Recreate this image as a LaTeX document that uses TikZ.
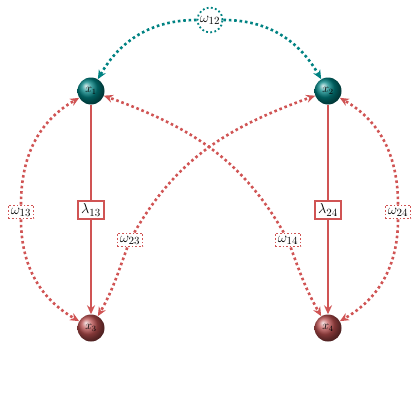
\documentclass[tikz,border=0pt]{standalone}
\usetikzlibrary{arrows.meta,shapes.geometric}
\definecolor{myred}{RGB}{208,84,84}
\definecolor{myteal}{RGB}{0,130,130}
\definecolor{ballred}{RGB}{185,78,78}
\begin{document}
\begin{tikzpicture}[x=1pt,y=-1pt,
  ballA/.style={circle,minimum size=27pt,inner sep=0pt,shading=ball,ball color=myteal,font=\fontsize{12}{14}\selectfont,text=black},
  ballB/.style={circle,minimum size=27pt,inner sep=0pt,shading=ball,ball color=ballred,font=\fontsize{12}{14}\selectfont,text=black},
  lam/.style={draw=myred,line width=1.6pt,fill=white,inner sep=3pt,font=\fontsize{15}{18}\selectfont},
  wbox/.style={draw=myred,line width=1.6pt,dash pattern=on 1.6pt off 2pt,fill=white,inner sep=2.5pt,font=\fontsize{15}{18}\selectfont},
  wcirc/.style={circle,draw=myteal,line width=1.8pt,dash pattern=on 1.8pt off 2.4pt,fill=white,inner sep=0.5pt,minimum size=25pt,font=\fontsize{15}{18}\selectfont},
  dl/.style={line width=2.6pt,dash pattern=on 2.6pt off 2.8pt,-{Stealth[length=9pt,width=8pt]}},
  sl/.style={line width=2.8pt,draw=myred},
]
\useasboundingbox (0,0) rectangle (420,420);
\node[ballA] (x1) at (91,91) {$x_1$};
\node[ballA] (x2) at (328,91) {$x_2$};
\node[ballB] (x3) at (91,328) {$x_3$};
\node[ballB] (x4) at (328,328) {$x_4$};
\node[wcirc] (w12) at (210,20) {$\omega_{12}$};
\node[lam] (l13) at (91,210) {$\lambda_{13}$};
\node[lam] (l24) at (328,210) {$\lambda_{24}$};
\node[wbox] (w13) at (21,212) {$\omega_{13}$};
\node[wbox] (w24) at (398,212) {$\omega_{24}$};
\node[wbox] (w23) at (130,240) {$\omega_{23}$};
\node[wbox] (w14) at (288,240) {$\omega_{14}$};
\draw[sl] (x1) -- (l13);
\draw[sl,-{Stealth[length=9pt,width=8pt]}] (l13) -- (x3);
\draw[sl] (x2) -- (l24);
\draw[sl,-{Stealth[length=9pt,width=8pt]}] (l24) -- (x4);
\draw[dl,draw=myteal] (w12) to[out=180,in=60] (x1);
\draw[dl,draw=myteal] (w12) to[out=0,in=120] (x2);
\draw[dl,draw=myred] (w13) to[out=90,in=210] (x1);
\draw[dl,draw=myred] (w13) to[out=270,in=150] (x3);
\draw[dl,draw=myred] (w24) to[out=90,in=-30] (x2);
\draw[dl,draw=myred] (w24) to[out=270,in=30] (x4);
\draw[dl,draw=myred] (w23) to[out=60,in=200] (x2);
\draw[dl,draw=myred] (w23) to[out=250,in=60] (x3);
\draw[dl,draw=myred] (w14) to[out=120,in=-20] (x1);
\draw[dl,draw=myred] (w14) to[out=290,in=120] (x4);
\end{tikzpicture}
\end{document}
